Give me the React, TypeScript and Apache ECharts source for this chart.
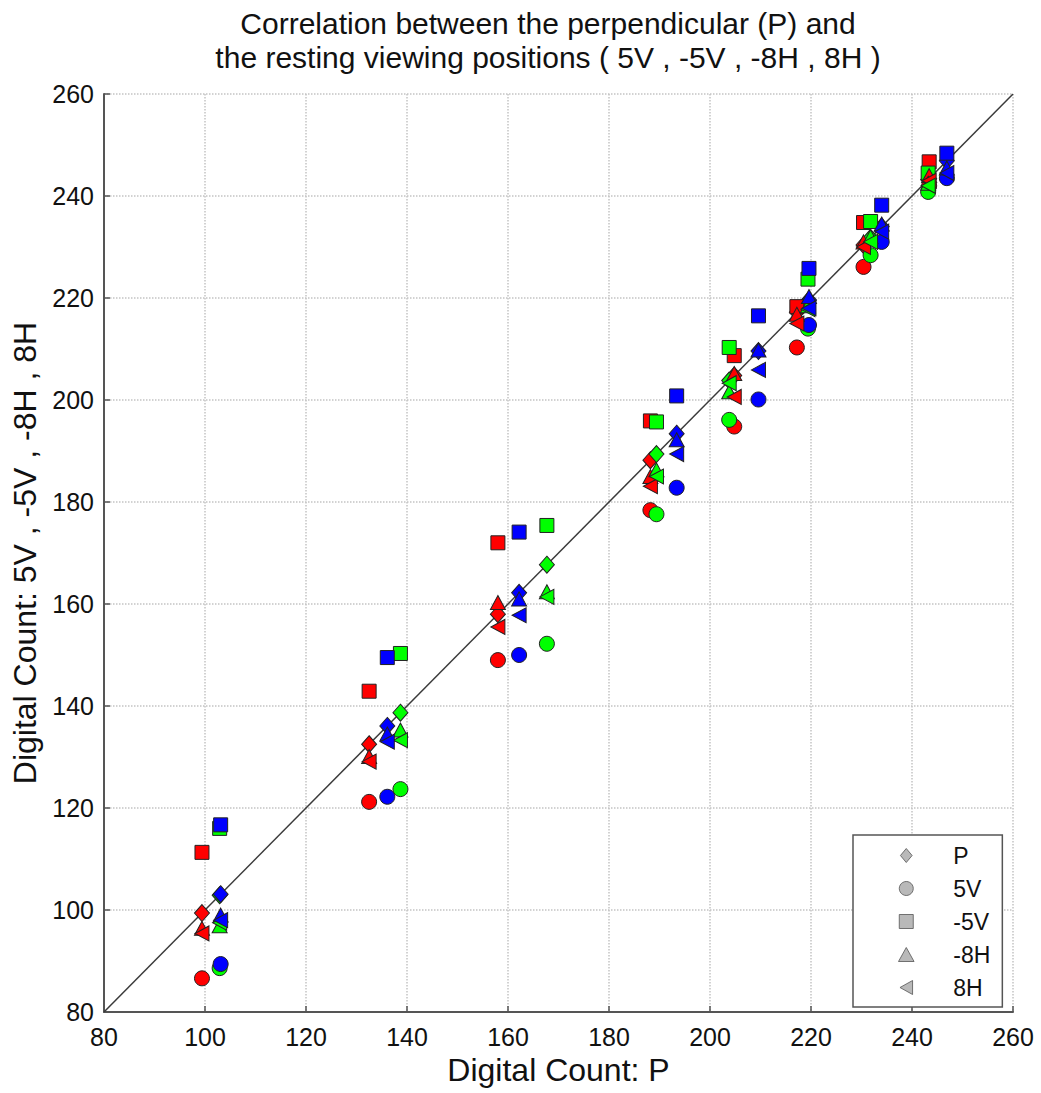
import React, { useEffect, useRef } from "react";
import * as echarts from "echarts";

// Viewing positions shown in the legend
const positions = ["P", "5V", "-5V", "-8H", "8H"];

// Axis range and tick step (digital counts)
const axisMin = 80;
const axisMax = 260;
const axisStep = 20;

// Digital count at the perpendicular position (P) for each of the eight targets
const pRed = [99.4, 132.5, 158.0, 188.2, 204.8, 217.2, 230.4, 243.4];
const pGreen = [102.9, 138.7, 167.7, 189.4, 203.8, 219.4, 231.8, 243.2];
const pBlue = [103.1, 136.1, 162.2, 193.4, 209.6, 219.6, 234.0, 246.9];

// Digital count at 5V
const v5Red = [86.6, 121.2, 149.0, 178.4, 194.8, 210.3, 226.1, 242.0];
const v5Green = [88.6, 123.7, 152.2, 177.6, 196.1, 214.0, 228.4, 240.8];
const v5Blue = [89.4, 122.2, 150.0, 182.8, 200.1, 214.7, 231.0, 243.5];

// Digital count at -5V
const m5vRed = [111.3, 142.9, 172.0, 195.9, 208.7, 218.3, 234.8, 246.7];
const m5vGreen = [116.0, 150.3, 175.4, 195.7, 210.3, 223.7, 235.0, 244.5];
const m5vBlue = [116.7, 149.5, 174.1, 200.8, 216.5, 225.8, 238.2, 248.4];

// Digital count at -8H
const m8hRed = [96.4, 130.1, 160.3, 185.0, 205.2, 216.8, 231.0, 244.0];
const m8hGreen = [96.9, 135.3, 162.4, 186.3, 201.6, 218.5, 232.0, 242.5];
const m8hBlue = [99.0, 134.5, 161.0, 192.2, 209.8, 220.3, 234.5, 245.5];

// Digital count at 8H
const h8Red = [95.4, 129.1, 155.5, 183.1, 200.6, 215.0, 230.0, 243.0];
const h8Green = [97.5, 133.3, 161.4, 185.0, 203.3, 217.8, 231.0, 242.0];
const h8Blue = [98.0, 133.0, 157.8, 189.4, 205.9, 218.0, 233.0, 244.5];

const FONT = "'Liberation Sans', Arial, Helvetica, sans-serif";

// marker outlines; path icons keep their aspect ratio inside the legend
const DIAMOND = "path://M5,0L10,6L5,12L0,6Z";
const SQUARE = "path://M0,0L10,0L10,10L0,10Z";
const UP_TRIANGLE = "path://M5,0L10,9L0,9Z";
const LEFT_TRIANGLE = "path://M0,5L9,0L9,10Z";

const markerFor: Record<string, { symbol: string; size: number | number[]; icon: string }> = {
  P: { symbol: "diamond", size: [15, 17], icon: DIAMOND },
  "5V": { symbol: "circle", size: 15, icon: "circle" },
  "-5V": { symbol: "rect", size: 14, icon: SQUARE },
  "-8H": { symbol: "triangle", size: [15, 14], icon: UP_TRIANGLE },
  "8H": { symbol: LEFT_TRIANGLE, size: [14, 15], icon: LEFT_TRIANGLE },
};

const sets = [
  { color: "#ff0000", p: pRed, "5V": v5Red, "-5V": m5vRed, "-8H": m8hRed, "8H": h8Red },
  { color: "#00ff00", p: pGreen, "5V": v5Green, "-5V": m5vGreen, "-8H": m8hGreen, "8H": h8Green },
  { color: "#0000ff", p: pBlue, "5V": v5Blue, "-5V": m5vBlue, "-8H": m8hBlue, "8H": h8Blue },
];

function buildOption(): echarts.EChartsOption {
  const series: any[] = [];

  // identity line y = x
  series.push({
    type: "line",
    name: "identity",
    data: [
      [axisMin, axisMin],
      [axisMax, axisMax],
    ],
    symbol: "none",
    lineStyle: { color: "#3a3a3a", width: 1.5 },
    z: 1,
    silent: true,
  });

  // coloured markers, one series per position and set
  positions.forEach((pos) => {
    sets.forEach((set, si) => {
      const ys: number[] = pos === "P" ? set.p : (set as any)[pos];
      series.push({
        type: "scatter",
        name: `${pos} #${si + 1}`,
        data: set.p.map((x, i) => [x, ys[i]]),
        symbol: markerFor[pos].symbol,
        symbolSize: markerFor[pos].size,
        itemStyle: { color: set.color, borderColor: "#222", borderWidth: 1, opacity: 1 },
        z: 3,
      });
    });
  });

  // grey entries that feed the legend
  positions.forEach((pos) => {
    series.push({
      type: "scatter",
      name: pos,
      data: [],
      symbol: markerFor[pos].symbol,
      symbolSize: markerFor[pos].size,
      itemStyle: { color: "#a8a8a8", borderColor: "#555", borderWidth: 1 },
    });
  });

  const axisCommon = {
    type: "value" as const,
    min: axisMin,
    max: axisMax,
    interval: axisStep,
    nameLocation: "middle" as const,
    nameTextStyle: { fontSize: 32, color: "#111", fontFamily: FONT },
    axisLine: { show: true, onZero: false, lineStyle: { color: "#555", width: 2 } },
    axisTick: { show: true, inside: true, length: 6, lineStyle: { color: "#555", width: 1.5 } },
    axisLabel: { fontSize: 25, color: "#111", fontFamily: FONT },
    splitLine: { show: true, lineStyle: { type: "dotted" as const, color: "#c4c4c4", width: 1.5 } },
  };

  return {
    animation: false,
    backgroundColor: "#ffffff",
    grid: { left: 104, top: 94, right: 28, bottom: 81, containLabel: false },
    graphic: [
      {
        type: "text",
        x: 548,
        y: 6,
        style: {
          text: "Correlation between the perpendicular (P) and\nthe resting viewing positions ( 5V , -5V , -8H , 8H )",
          fill: "#111",
          font: `30px ${FONT}`,
          textAlign: "center",
          textVerticalAlign: "top",
          lineHeight: 34,
        },
      },
    ],
    legend: {
      data: positions.map((name) => ({ name, icon: markerFor[name].icon })),
      orient: "vertical",
      left: 853,
      top: 835,
      itemWidth: 84,
      itemHeight: 14,
      itemGap: 10,
      symbolKeepAspect: true,
      padding: [9, 12, 8, 45],
      borderColor: "#555",
      borderWidth: 1.5,
      backgroundColor: "#ffffff",
      selectedMode: false,
      itemStyle: { color: "#a8a8a8", borderColor: "#555", borderWidth: 1 },
      textStyle: { fontSize: 23, color: "#111", fontFamily: FONT, lineHeight: 22 },
    },
    xAxis: {
      ...axisCommon,
      name: "Digital Count: P",
      nameGap: 40,
      axisLabel: { ...axisCommon.axisLabel, margin: 12 },
    },
    yAxis: {
      ...axisCommon,
      name: "Digital Count: 5V , -5V , -8H , 8H",
      nameGap: 58,
      axisLabel: { ...axisCommon.axisLabel, margin: 10 },
    },
    series,
  };
}

export default function App() {
  const ref = useRef<HTMLDivElement>(null);

  useEffect(() => {
    if (!ref.current) return;
    const chart = echarts.init(ref.current, undefined, { renderer: "svg" });
    chart.setOption(buildOption());
    return () => chart.dispose();
  }, []);

  return (
    <div
      ref={ref}
      style={{ position: "fixed", left: 0, top: 0, width: 1041, height: 1093, background: "#fff" }}
    />
  );
}
